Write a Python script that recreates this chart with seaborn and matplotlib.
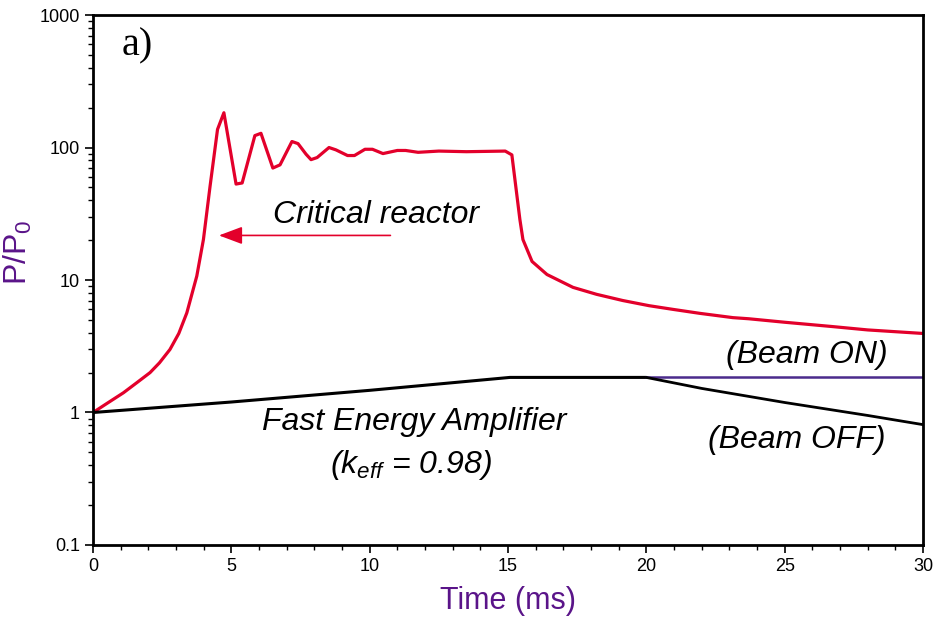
import numpy as np
import pandas as pd
import seaborn as sns
import matplotlib.pyplot as plt
from matplotlib.ticker import FixedLocator, NullFormatter, FuncFormatter, MultipleLocator

# critical reactor (red)
crit_t = [0, 0.5, 1.1, 1.6, 2.06, 2.4, 2.78, 3.1, 3.39, 3.75, 3.99, 4.23, 4.5, 4.73,
          5.17, 5.39, 5.85, 6.07, 6.5, 6.76, 7.19, 7.41, 7.7, 7.88, 8.1, 8.53,
          8.78, 9.2, 9.45, 9.83, 10.1, 10.48, 11.0, 11.3, 11.75, 12.5, 13.5,
          14.9, 15.14, 15.43, 15.54, 15.87, 16.41, 17.35, 18.2, 19.15, 20.1,
          20.97, 21.94, 23.13, 23.7, 25.0, 26.74, 28.0, 30.0]
crit_p = [1.0, 1.17, 1.41, 1.69, 2.0, 2.37, 2.99, 3.95, 5.65, 10.7, 20.2, 51, 137, 183,
          53, 54, 123, 128, 70, 74, 111, 107, 89, 81, 84, 100,
          96, 87, 87, 97, 97, 90, 95, 95, 92, 94, 93,
          94, 88, 28.6, 20.2, 13.8, 11.0, 8.8, 7.8, 7.0, 6.4,
          6.0, 5.6, 5.2, 5.1, 4.8, 4.45, 4.2, 3.95]

# fast energy amplifier, common part (black)
fea_t = [0, 5, 10, 15.07, 20.0]
fea_p = [1.0, 1.2, 1.47, 1.84, 1.84]

# beam off (black) and beam on (purple)
off_t = [20.0, 22.0, 25.0, 28.0, 30.0]
off_p = [1.84, 1.52, 1.19, 0.95, 0.81]
on_t = [20.0, 30.0]
on_p = [1.84, 1.84]

x_ticks = [0, 5, 10, 15, 20, 25, 30]
y_ticks = [0.1, 1, 10, 100, 1000]

RED = "#e3002b"
PURPLE = "#5a1489"
BEAM_ON = "#4b2b8c"

sns.set_theme(style="ticks")
plt.rcParams["font.family"] = ["Liberation Sans", "DejaVu Sans"]
plt.rcParams["text.color"] = "black"
plt.rcParams["mathtext.fontset"] = "custom"
plt.rcParams["mathtext.rm"] = "Liberation Sans"
plt.rcParams["mathtext.it"] = "Liberation Sans:italic"

fig = plt.figure(figsize=(9.37, 6.21), dpi=100)
ax = fig.add_axes([0.0993, 0.1224, 0.8857, 0.8534])

sns.lineplot(x=crit_t, y=crit_p, ax=ax, color=RED, lw=2.3, sort=False)
sns.lineplot(x=fea_t, y=fea_p, ax=ax, color="black", lw=2.2, sort=False)
sns.lineplot(x=on_t, y=on_p, ax=ax, color=BEAM_ON, lw=1.8, sort=False)
sns.lineplot(x=off_t, y=off_p, ax=ax, color="black", lw=2.0, sort=False)

ax.set_yscale("log")
ax.set_xlim(0, 30)
ax.set_ylim(0.1, 1000)

ax.xaxis.set_major_locator(FixedLocator(x_ticks))
ax.xaxis.set_minor_locator(MultipleLocator(1))
ax.yaxis.set_major_locator(FixedLocator(y_ticks))
minors = [m * d for d in [0.1, 1, 10, 100] for m in range(2, 10)]
ax.yaxis.set_minor_locator(FixedLocator(minors))
ax.yaxis.set_minor_formatter(NullFormatter())
ax.yaxis.set_major_formatter(FuncFormatter(lambda v, p: "%g" % v))

ax.tick_params(which="major", direction="out", length=6, width=1.2,
               labelsize=13, colors="black", top=False, right=False)
ax.tick_params(which="minor", direction="out", length=3.5, width=1.0,
               colors="black", top=False, right=False)
for s in ax.spines.values():
    s.set_visible(True)
    s.set_linewidth(2.0)
    s.set_color("black")

ax.set_xlabel("Time (ms)", fontsize=22, color=PURPLE, labelpad=8)
ax.set_ylabel(r"P/P$_\mathregular{0}$", fontsize=23, color=PURPLE)
ax.yaxis.set_label_coords(-0.071, 0.553)

ax.text(1.05, 580, "a)", fontsize=29, family="Liberation Serif", va="center", ha="left")
ax.text(6.5, 31, "Critical reactor", fontsize=23, style="italic", va="center", ha="left")
ax.annotate("", xy=(4.55, 21.7), xytext=(10.75, 21.7),
            arrowprops=dict(arrowstyle="-|>,head_length=1.2,head_width=0.45",
                            color=RED, lw=1.2, shrinkA=0, shrinkB=0))
ax.text(25.8, 2.74, "(Beam ON)", fontsize=23, style="italic", va="center", ha="center")
ax.text(11.6, 0.855, "Fast Energy Amplifier", fontsize=23, style="italic",
        va="center", ha="center")
ax.text(11.5, 0.405, r"($k_{eff}$ = 0.98)", fontsize=23, style="italic",
        va="center", ha="center")
ax.text(25.45, 0.625, "(Beam OFF)", fontsize=23, style="italic", va="center", ha="center")

fig.savefig("out.png", dpi=100)
